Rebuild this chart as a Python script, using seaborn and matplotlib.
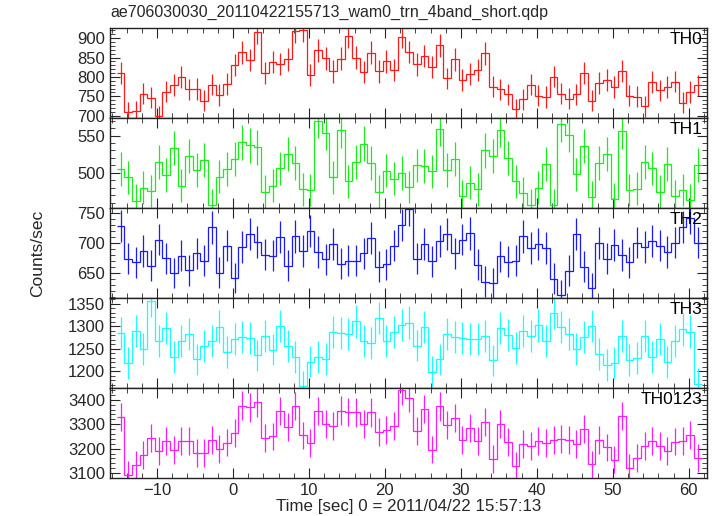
"""
plot.py
-------
WAM light curves (5 energy bands), 1-s bins, stacked panels with a shared time axis.
"""

import matplotlib
matplotlib.use("Agg")
import matplotlib.pyplot as plt
import matplotlib.ticker as mtick
import numpy as np
import seaborn as sns

# ---------------------------------------------------------------------------
# Data (counts/sec per 1-s bin)
# ---------------------------------------------------------------------------

TITLE = "ae706030030_20110422155713_wam0_trn_4band_short.qdp"
XLABEL = "Time [sec] 0 = 2011/04/22 15:57:13"
YLABEL = "Counts/sec"

TIME_START = -14.8   # centre of the first bin
BIN_WIDTH = 1.0

TH0 = [809, 709, 711, 757, 746, 698, 762, 779, 799, 768, 769, 738, 780, 753, 781,
       831, 863, 843, 916, 809, 839, 833, 845, 918, 920, 804, 869, 848, 814, 847,
       905, 850, 813, 862, 814, 840, 817, 904, 864, 832, 854, 825, 882, 796, 845,
       792, 808, 817, 861, 775, 768, 755, 716, 742, 780, 752, 748, 801, 757, 744,
       755, 809, 739, 785, 792, 774, 815, 752, 749, 724, 787, 765, 774, 788, 733,
       761, 778]

TH1 = [505, 494, 463, 480, 476, 515, 497, 533, 483, 523, 504, 517, 457, 495, 505,
       518, 541, 537, 534, 475, 483, 506, 525, 513, 478, 477, 570, 554, 494, 557,
       489, 514, 539, 513, 475, 503, 492, 500, 481, 510, 509, 502, 559, 504, 518,
       469, 487, 478, 530, 523, 558, 520, 489, 473, 457, 480, 512, 457, 565, 551,
       498, 536, 468, 513, 525, 465, 556, 477, 479, 514, 506, 475, 512, 469, 477,
       464, 511]

TH2 = [728, 674, 668, 687, 662, 706, 675, 650, 679, 655, 683, 671, 726, 651, 696,
       642, 694, 715, 702, 681, 679, 710, 662, 711, 687, 720, 685, 673, 698, 666,
       671, 671, 683, 709, 661, 665, 696, 730, 756, 674, 699, 670, 704, 715, 683,
       706, 716, 664, 636, 634, 678, 669, 671, 711, 692, 698, 692, 641, 614, 654,
       715, 661, 625, 700, 674, 697, 680, 668, 701, 693, 704, 696, 685, 701, 727,
       742, 701]

TH3 = [1285, 1218, 1290, 1250, 1357, 1268, 1296, 1232, 1267, 1283, 1226, 1256, 1268,
       1299, 1242, 1271, 1275, 1273, 1235, 1279, 1248, 1301, 1256, 1231, 1167, 1221,
       1231, 1227, 1287, 1285, 1282, 1311, 1267, 1263, 1318, 1267, 1287, 1303, 1308,
       1257, 1298, 1199, 1226, 1282, 1276, 1273, 1272, 1272, 1278, 1224, 1296, 1281,
       1251, 1290, 1278, 1302, 1268, 1330, 1298, 1283, 1250, 1276, 1301, 1238, 1214,
       1218, 1279, 1225, 1229, 1278, 1231, 1272, 1220, 1268, 1293, 1288, 1172]

TH0123 = [3328, 3093, 3134, 3175, 3242, 3191, 3230, 3195, 3230, 3230, 3182, 3183, 3234,
          3198, 3225, 3266, 3376, 3369, 3389, 3242, 3250, 3353, 3290, 3375, 3254, 3222,
          3353, 3302, 3294, 3356, 3349, 3348, 3302, 3348, 3270, 3278, 3294, 3439, 3407,
          3274, 3363, 3196, 3373, 3296, 3324, 3237, 3284, 3233, 3309, 3158, 3301, 3226,
          3130, 3219, 3210, 3231, 3222, 3235, 3238, 3235, 3219, 3282, 3136, 3237, 3205,
          3155, 3334, 3123, 3162, 3210, 3233, 3210, 3191, 3229, 3231, 3257, 3162]

BANDS = ["TH0", "TH1", "TH2", "TH3", "TH0123"]
SERIES = [TH0, TH1, TH2, TH3, TH0123]
COLORS = ["#ff1a1a", "#1aee1a", "#1a1aff", "#1affff", "#ff1aff"]
YLIMS = [(694, 926), (453, 573.4), (608.6, 758.4), (1162.5, 1362.7), (3080, 3448)]
YMAJOR = [50, 50, 50, 50, 100]
XLIM = (-16.2, 62.4)

# ---------------------------------------------------------------------------
# Style
# ---------------------------------------------------------------------------

sns.set_style("ticks")
plt.rcParams.update({
    "font.family": ["Liberation Sans", "DejaVu Sans"],
    "font.size": 12,
    "xtick.direction": "in",
    "ytick.direction": "in",
    "xtick.top": True,
    "ytick.right": True,
    "xtick.major.size": 7,
    "ytick.major.size": 7,
    "xtick.minor.size": 3.5,
    "ytick.minor.size": 3.5,
    "axes.linewidth": 1.0,
    "axes.edgecolor": "#222222",
})

fig, axes = plt.subplots(5, 1, figsize=(7.17, 5.16), dpi=100, sharex=True)
fig.subplots_adjust(left=0.1534, right=0.986, top=0.9457, bottom=0.0736, hspace=0)

for ax, name, vals, color, ylim, major in zip(axes, BANDS, SERIES, COLORS, YLIMS, YMAJOR):
    vals = np.asarray(vals, dtype=float)
    centres = TIME_START + BIN_WIDTH * np.arange(len(vals))
    edges = np.append(centres - BIN_WIDTH / 2, centres[-1] + BIN_WIDTH / 2)

    ax.stairs(vals, edges, baseline=None, color=color, linewidth=0.9)
    # Poisson errors for 1-s bins
    ax.errorbar(centres, vals, yerr=np.sqrt(vals), fmt="none",
                ecolor=color, elinewidth=0.9, capsize=0)

    ax.set_xlim(*XLIM)
    ax.set_ylim(*ylim)
    ax.yaxis.set_major_locator(mtick.MultipleLocator(major))
    ax.yaxis.set_minor_locator(mtick.MultipleLocator(major / 5))
    ax.xaxis.set_major_locator(mtick.MultipleLocator(10))
    ax.xaxis.set_minor_locator(mtick.MultipleLocator(2))
    ax.tick_params(which="both", top=True, right=True, labelsize=12)
    ax.text(0.993, 0.96, name, transform=ax.transAxes, ha="right", va="top",
            fontsize=12.5, color="black")

axes[-1].set_xlabel(XLABEL, fontsize=12.2, labelpad=1)
fig.text(0.053, 0.508, YLABEL, rotation=90, ha="center", va="center", fontsize=12.5)
fig.text(0.1534, 0.976, TITLE, ha="left", va="center", fontsize=11.5)

fig.savefig("out.png", dpi=100)
